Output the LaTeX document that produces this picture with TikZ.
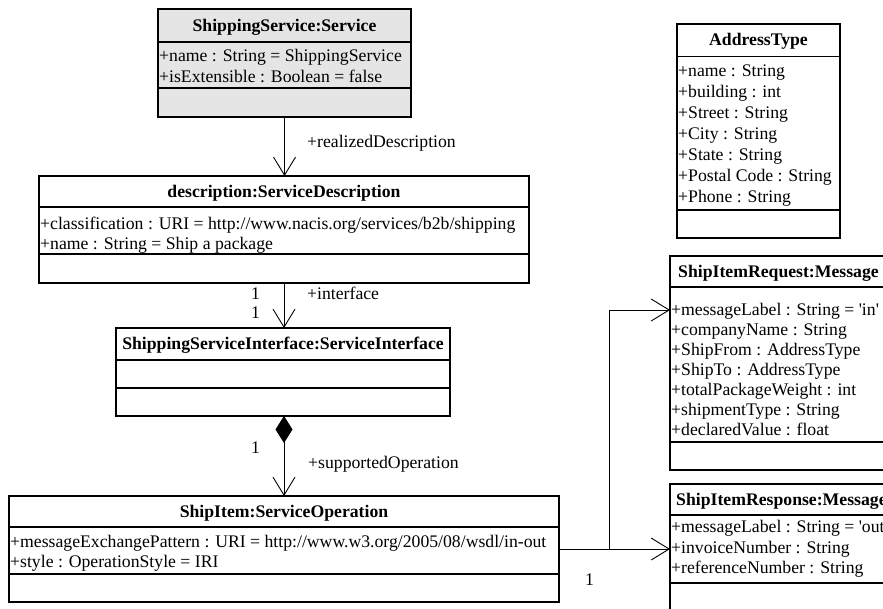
\documentclass[tikz,border=0pt]{standalone}
\usepackage{fontspec}
\setmainfont{Liberation Serif}[Ligatures=TeXOff]
\usetikzlibrary{arrows.meta}
\begin{document}
\begin{tikzpicture}[x=1pt,y=-1pt,
  box/.style={draw, line width=1.3pt, inner sep=0pt, outer sep=0pt},
  sepline/.style={line width=1.3pt},
  title/.style={font=\fontsize{17.7}{20}\selectfont\bfseries, anchor=base, inner sep=0pt},
  ltitle/.style={font=\fontsize{17.7}{20}\selectfont\bfseries, anchor=base west, inner sep=0pt},
  attr/.style={font=\fontsize{17.7}{20}\selectfont, anchor=base west, inner sep=0pt},
  lbl/.style={font=\fontsize{17.7}{20}\selectfont, anchor=base west, inner sep=0pt},
  conn/.style={line width=0.9pt},
  assoc/.style={conn, -{Straight Barb[length=18pt,width=22pt,line width=0.9pt]}},
  compo/.style={conn, {Diamond[length=27pt,width=17pt]}-{Straight Barb[length=18pt,width=22pt,line width=0.9pt]}},
]
\useasboundingbox (0,0) rectangle (883,608);
\clip (0,0) rectangle (883,608);

% ShippingService:Service
\node[box, fill=gray!20, minimum width=253pt, minimum height=108pt] (svc) at (284.5,63) {};
\draw[sepline] (158,42) -- (411,42);
\draw[sepline] (158,88) -- (411,88);
\node[title] (svc-t) at (284.5,31) {ShippingService:Service};
\node[attr] (svc-a1) at (159,61) {+name : String = ShippingService};
\node[attr] (svc-a2) at (159,82) {+isExtensible : Boolean = false};

% description:ServiceDescription
\node[box, minimum width=490pt, minimum height=107pt] (desc) at (284,229.5) {};
\draw[sepline] (39,207) -- (529,207);
\draw[sepline] (39,254) -- (529,254);
\node[title] (desc-t) at (284,197) {description:ServiceDescription};
\node[attr] (desc-a1) at (40,229) {+classification : URI = http://www.nacis.org/services/b2b/shipping};
\node[attr] (desc-a2) at (40,249) {+name : String = Ship a package};

% ShippingServiceInterface:ServiceInterface
\node[box, minimum width=334pt, minimum height=88pt] (iface) at (283,372) {};
\draw[sepline] (116,360) -- (450,360);
\draw[sepline] (116,388) -- (450,388);
\node[title] (iface-t) at (283,349) {ShippingServiceInterface:ServiceInterface};

% ShipItem:ServiceOperation
\node[box, minimum width=550pt, minimum height=106pt] (op) at (284,549) {};
\draw[sepline] (9,527) -- (559,527);
\draw[sepline] (9,574) -- (559,574);
\node[title] (op-t) at (284,517) {ShipItem:ServiceOperation};
\node[attr] (op-a1) at (10,547) {+messageExchangePattern : URI = http://www.w3.org/2005/08/wsdl/in-out};
\node[attr] (op-a2) at (10,567) {+style : OperationStyle = IRI};

% AddressType
\node[box, minimum width=163pt, minimum height=214pt] (addr) at (758.5,131) {};
\draw[sepline] (677,56.5) -- (840,56.5);
\draw[sepline] (677,210) -- (840,210);
\node[title] (addr-t) at (758.5,45) {AddressType};
\node[attr] (addr-a1) at (678,76) {+name : String};
\node[attr] (addr-a2) at (678,97) {+building : int};
\node[attr] (addr-a3) at (678,118) {+Street : String};
\node[attr] (addr-a4) at (678,139) {+City : String};
\node[attr] (addr-a5) at (678,160) {+State : String};
\node[attr] (addr-a6) at (678,181) {+Postal Code : String};
\node[attr] (addr-a7) at (678,202) {+Phone : String};

% ShipItemRequest:Message
\node[box, minimum width=217pt, minimum height=214pt] (req) at (778.5,363) {};
\draw[sepline] (670,287) -- (887,287);
\draw[sepline] (670,442) -- (887,442);
\node[ltitle] (req-t) at (678,277) {ShipItemRequest:Message};
\node[attr] (req-a1) at (671,315) {+messageLabel : String = 'in'};
\node[attr] (req-a2) at (671,335) {+companyName : String};
\node[attr] (req-a3) at (671,355) {+ShipFrom : AddressType};
\node[attr] (req-a4) at (671,375) {+ShipTo : AddressType};
\node[attr] (req-a5) at (671,395) {+totalPackageWeight : int};
\node[attr] (req-a6) at (671,415) {+shipmentType : String};
\node[attr] (req-a7) at (671,435) {+declaredValue : float};

% ShipItemResponse:Message
\node[box, minimum width=230pt, minimum height=150pt] (resp) at (785,559) {};
\draw[sepline] (670,515) -- (900,515);
\draw[sepline] (670,583) -- (900,583);
\node[ltitle] (resp-t) at (676,505) {ShipItemResponse:Message};
\node[attr] (resp-a1) at (671,532) {+messageLabel : String = 'out'};
\node[attr] (resp-a2) at (671,553) {+invoiceNumber : String};
\node[attr] (resp-a3) at (671,573) {+referenceNumber : String};

% connectors
\draw[assoc] (svc.south) -- (svc.south |- desc.north);
\draw[assoc] (desc.south) -- (desc.south |- iface.north);
\draw[compo] (iface.south -| desc.south) -- (desc.south |- op.north);

\coordinate (fork) at (609,549);
\coordinate (reqin) at (req.west |- 0,310);
\draw[conn] (op.east) -- (fork);
\draw[assoc] (fork) |- (reqin);
\draw[assoc] (fork) -- (resp.west |- fork);

% role names and multiplicities
\node[lbl] (l-real) at (307,147) {+realizedDescription};
\node[lbl] (l-if) at (307,299) {+interface};
\node[lbl] (m-if1) at (251,299) {1};
\node[lbl] (m-if2) at (251,318) {1};
\node[lbl] (m-op) at (251,453) {1};
\node[lbl] (l-op) at (308,468) {+supportedOperation};
\node[lbl] (m-msg) at (585,585) {1};
\end{tikzpicture}
\end{document}
